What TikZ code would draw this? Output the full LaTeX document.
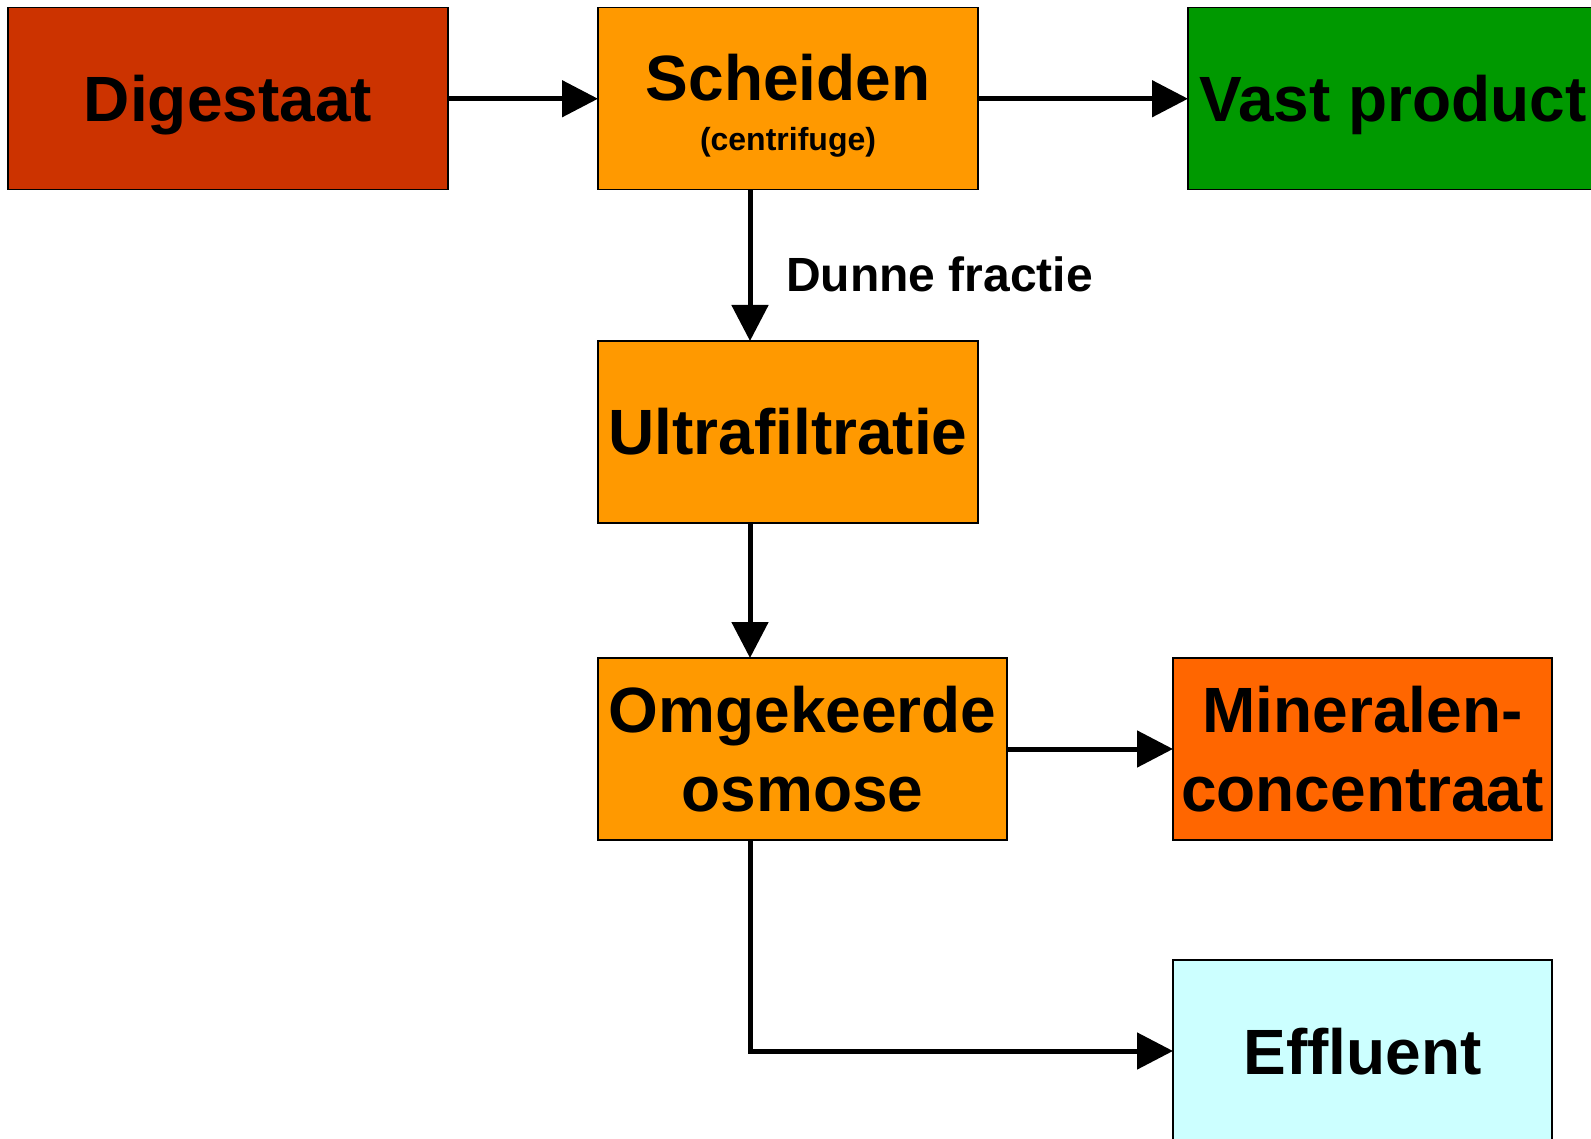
\documentclass[tikz,border=0pt]{standalone}
\usepackage{fontspec}
\setmainfont{Liberation Sans}
\usepackage{tikz}
\usetikzlibrary{positioning,arrows.meta}

\tikzset{
  blok/.style={draw, line width=1.2pt, inner sep=0pt, outer sep=0pt,
    minimum height=182pt, align=center,
    font=\bfseries\fontsize{64}{79}\selectfont},
  eenregel/.style={text height=46pt, text depth=0pt},
  pijl/.style={-{Triangle[length=36pt,width=36pt]}, line width=5pt}
}

\begin{document}
\begin{tikzpicture}[x=1pt, y=-1pt]
      \useasboundingbox (0,0) rectangle (1591,1139);

      % Bovenste rij
      \node (digestaat) at (228,98.75) [blok, eenregel, minimum width=440pt, fill={rgb,255:red,204;green,51;blue,0}] {Digestaat};
      \node (scheiden) at (788,98.75) [blok, text depth=0pt, minimum width=380pt, fill={rgb,255:red,255;green,153;blue,0}] {\rule{0pt}{53pt}Scheiden\\[-29pt]{\fontsize{32}{37}\selectfont (centrifuge)}};
      \node (vast) at (1393,98.75) [blok, eenregel, minimum width=410pt, fill={rgb,255:red,0;green,153;blue,0}] {Vast product};

      % Middelste kolom
      \coordinate (stam) at (750,0);
      \node (ultra) at (788,432) [blok, eenregel, minimum width=380pt, fill={rgb,255:red,255;green,153;blue,0}] {Ultrafiltratie};
      \node (osmose) at (802.5,749) [blok, minimum width=409pt, fill={rgb,255:red,255;green,153;blue,0}] {Omgekeerde\\osmose};

      % Rechter kolom
      \node (mineralen) at (1362.5,749) [blok, minimum width=379pt, fill={rgb,255:red,255;green,102;blue,0}] {Mineralen-\\concentraat};
      \node (effluent) at (1362.5,1051) [blok, eenregel, minimum width=379pt, fill={rgb,255:red,204;green,255;blue,255}] {Effluent};

      % Label
      \node (dunne) at (786,292) [anchor=base west, inner sep=0pt, font=\bfseries\fontsize{48}{56}\selectfont] {Dunne fractie};

      % Pijlen
      \draw[pijl] (digestaat.east) -- (scheiden.west);
      \draw[pijl] (scheiden.east) -- (vast.west);
      \draw[pijl] (scheiden.south -| stam) -- (ultra.north -| stam);
      \draw[pijl] (ultra.south -| stam) -- (osmose.north -| stam);
      \draw[pijl] (osmose.east) -- (mineralen.west);
      \draw[pijl] (osmose.south -| stam) |- (effluent.west);
    \end{tikzpicture}
\end{document}
